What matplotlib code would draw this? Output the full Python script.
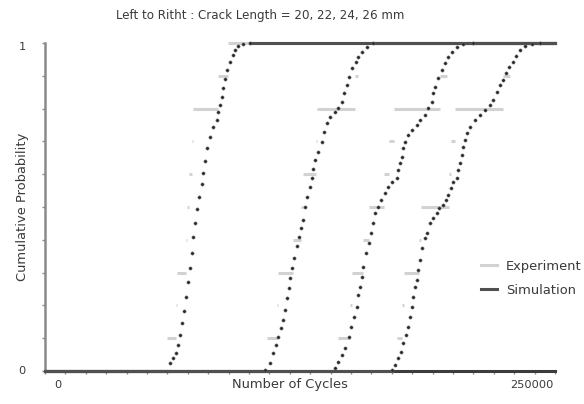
import numpy as np
import matplotlib
matplotlib.use('Agg')
import matplotlib.pyplot as plt

plt.rcParams['font.family'] = ['DejaVu Sans']

# cycles in thousands, probabilities 0..1
# experiment: ordered failure cycles, 10 specimens per crack length
exp_20 = [59.8, 64.2, 64.7, 69.1, 69.6, 70.6, 72.1, 72.5, 84.8, 89.7]
exp_22 = [108.8, 113.7, 114.2, 121.6, 125.5, 126.5, 132.9, 133.3, 152.0, 153.4]
exp_24 = [143.6, 149.5, 150.5, 155.9, 158.8, 166.2, 168.6, 171.1, 193.6, 197.1]
exp_26 = [172.6, 175.0, 176.0, 183.3, 184.3, 198.0, 199.0, 201.0, 224.5, 227.9]

# simulation CDF points
sim_20_x = [61.3, 62.7, 64.2, 65.2, 66.2, 67.2, 68.1, 69.1, 70.1, 71.1, 72.1, 72.5,
            73.5, 74.5, 75.5, 77.0, 77.5, 78.4, 79.4, 80.9, 82.4, 84.3, 84.8, 85.8,
            86.8, 87.3, 88.2, 89.2, 90.7, 92.2, 93.1, 94.6, 97.1, 100.5]
sim_20_p = [0.024, 0.040, 0.055, 0.079, 0.110, 0.146, 0.183, 0.226, 0.271, 0.314,
            0.360, 0.409, 0.451, 0.494, 0.530, 0.570, 0.604, 0.640, 0.680, 0.713,
            0.744, 0.765, 0.790, 0.811, 0.835, 0.863, 0.890, 0.918, 0.942, 0.963,
            0.979, 0.991, 0.997, 1.0]

sim_22_x = [107.8, 110.3, 111.8, 113.2, 114.2, 115.7, 116.7, 117.6, 118.6, 119.6,
            120.1, 121.1, 122.1, 123.5, 124.5, 125.5, 126.5, 127.5, 128.4, 129.9,
            130.9, 131.4, 132.4, 133.8, 135.8, 136.8, 138.2, 139.7, 142.2, 143.6,
            145.6, 146.6, 148.0, 149.0, 150.5, 152.5, 153.4, 155.4, 157.8, 160.8]
sim_22_p = [0.003, 0.024, 0.055, 0.079, 0.104, 0.131, 0.155, 0.186, 0.223, 0.253,
            0.284, 0.314, 0.345, 0.381, 0.409, 0.436, 0.460, 0.500, 0.530, 0.561,
            0.588, 0.616, 0.643, 0.668, 0.698, 0.729, 0.756, 0.774, 0.790, 0.802,
            0.820, 0.848, 0.872, 0.896, 0.924, 0.942, 0.957, 0.973, 0.988, 1.0]

sim_24_x = [142.2, 143.6, 145.6, 147.1, 149.0, 150.0, 151.5, 152.9, 153.4, 154.4,
            155.4, 155.9, 157.4, 158.8, 159.8, 160.8, 161.8, 163.2, 164.7, 166.7,
            168.1, 170.1, 172.6, 173.0, 174.0, 175.0, 175.5, 176.5, 177.9, 179.9,
            182.4, 183.8, 186.3, 187.7, 189.7, 190.2, 191.2, 192.6, 194.6, 196.1,
            197.6, 199.5, 202.0, 204.9, 209.8]
sim_24_p = [0.009, 0.027, 0.049, 0.070, 0.104, 0.134, 0.165, 0.195, 0.232, 0.256,
            0.287, 0.317, 0.360, 0.390, 0.421, 0.451, 0.482, 0.500, 0.521, 0.543,
            0.561, 0.576, 0.588, 0.613, 0.634, 0.652, 0.680, 0.698, 0.720, 0.735,
            0.750, 0.765, 0.780, 0.802, 0.820, 0.848, 0.866, 0.893, 0.918, 0.939,
            0.957, 0.973, 0.988, 0.997, 1.0]

sim_26_x = [170.1, 171.6, 173.0, 174.5, 175.5, 177.0, 177.9, 178.9, 179.9, 180.4,
            181.4, 182.4, 182.8, 183.8, 184.8, 186.3, 187.3, 188.7, 190.2, 192.2,
            193.1, 195.1, 196.6, 197.6, 199.0, 200.0, 202.0, 202.5, 203.4, 204.4,
            204.9, 205.9, 206.9, 208.3, 210.8, 213.2, 215.7, 218.1, 219.6, 221.6,
            223.0, 224.5, 226.0, 227.5, 229.4, 230.9, 232.8, 235.3, 238.7, 242.6]
sim_26_p = [0.003, 0.018, 0.040, 0.058, 0.085, 0.110, 0.134, 0.165, 0.195, 0.226,
            0.256, 0.277, 0.308, 0.338, 0.375, 0.405, 0.421, 0.451, 0.466, 0.482,
            0.497, 0.506, 0.521, 0.537, 0.558, 0.576, 0.588, 0.613, 0.634, 0.659,
            0.683, 0.704, 0.726, 0.744, 0.765, 0.780, 0.796, 0.811, 0.826, 0.851,
            0.872, 0.887, 0.909, 0.927, 0.942, 0.960, 0.979, 0.991, 0.997, 1.0]

experiments = [exp_20, exp_22, exp_24, exp_26]
simulations = [(sim_20_x, sim_20_p), (sim_22_x, sim_22_p),
               (sim_24_x, sim_24_p), (sim_26_x, sim_26_p)]

XMAX = 250000
exp_color = '#d2d2d2'
sim_color = '#505050'
text_color = '#3a3a3a'

fig = plt.figure(figsize=(5.84, 4.04), dpi=100)
ax = fig.add_axes([45/584, 33/404, 510/584, 328/404])

# experimental step functions: level k/10 from the k-th to the (k+1)-th specimen
for cyc in experiments:
    cyc = np.array(cyc) * 1000
    n = len(cyc)
    levels = np.arange(1, n + 1) / n
    right = np.append(cyc[1:], XMAX)
    ax.hlines(levels, cyc, right, colors=exp_color, lw=2.2, zorder=2, clip_on=False)

# simulated CDFs, flat parts at 0 and 1 drawn as lines
for sx, sp in simulations:
    sx = np.array(sx) * 1000
    ax.plot([0, sx[0]], [0, 0], color=sim_color, lw=2.2, zorder=3, clip_on=False)
    ax.plot([sx[-1], XMAX], [1, 1], color=sim_color, lw=2.2, zorder=3, clip_on=False)
    ax.plot(sx, sp, ls='none', marker='o', ms=2.3, mfc='#262626', mec='#6a6a6a',
            mew=0.4, zorder=4, clip_on=False)

ax.set_xlim(0, XMAX)
ax.set_ylim(0, 1)

for s in ['top', 'right']:
    ax.spines[s].set_visible(False)
ax.spines['left'].set_color('#8a8a8a')
ax.spines['left'].set_linewidth(1.8)
ax.spines['bottom'].set_color('#3c3c3c')
ax.spines['bottom'].set_linewidth(2.2)

ax.set_xticks(np.arange(0, XMAX + 1, 10000))
ax.set_yticks(np.arange(0, 1.01, 0.1))
ax.tick_params(direction='out', length=2.5, width=1, color='#8a8a8a',
               labelbottom=False, labelleft=False)

tick_txt = dict(color=text_color, fontsize=8.2)
lab_txt = dict(color=text_color, fontsize=9.4)
ax.text(0.025, -0.042, '0', transform=ax.transAxes, ha='center', va='center', **tick_txt)
ax.text(0.955, -0.042, '250000', transform=ax.transAxes, ha='center', va='center', **tick_txt)
ax.text(-0.045, 0.0, '0', transform=ax.transAxes, ha='center', va='center', **tick_txt)
ax.text(-0.045, 0.988, '1', transform=ax.transAxes, ha='center', va='center', **tick_txt)
ax.text(0.48, -0.042, 'Number of Cycles', transform=ax.transAxes,
        ha='center', va='center', **lab_txt)
ax.text(-0.045, 0.5, 'Cumulative Probability', transform=ax.transAxes, rotation=90,
        ha='center', va='center', **lab_txt)
fig.text(260/584, 1 - 16/404, 'Left to Ritht : Crack Length = 20, 22, 24, 26 mm',
         ha='center', va='center', color=text_color, fontsize=8.6)

handles = [plt.Line2D([], [], color=exp_color, lw=2.2),
           plt.Line2D([], [], color=sim_color, lw=2.2)]
leg = ax.legend(handles, ['Experiment', 'Simulation'], loc='upper left',
                bbox_to_anchor=(0.845, 0.355), frameon=False, fontsize=9.4,
                handlelength=1.2, handletextpad=0.7, labelspacing=0.85,
                borderaxespad=0)
for t in leg.get_texts():
    t.set_color(text_color)

fig.savefig('out.png', dpi=100)
